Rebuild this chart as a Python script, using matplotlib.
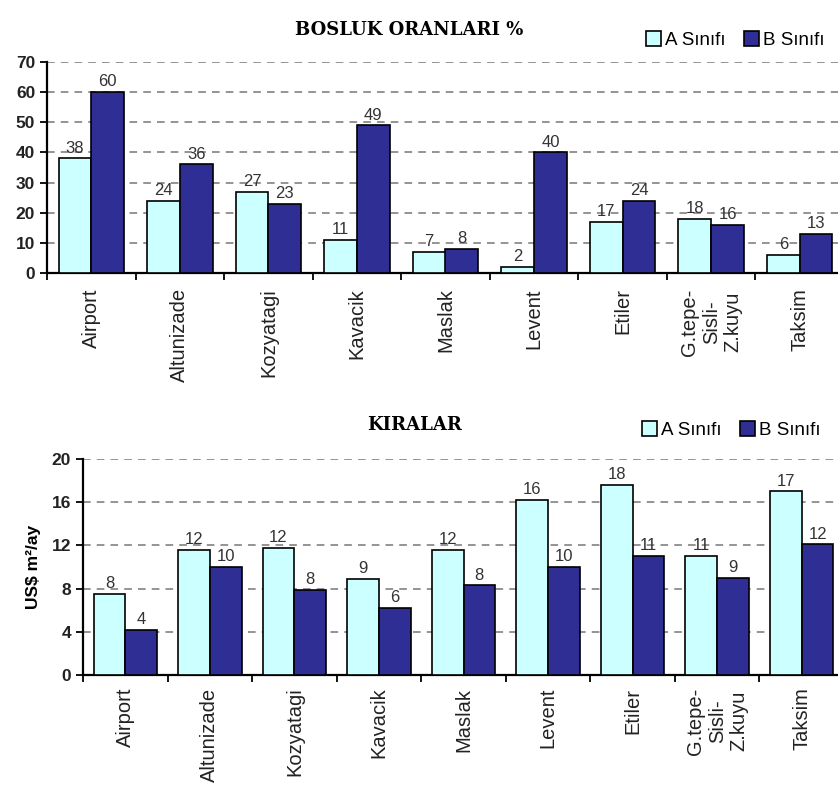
import numpy as np
import matplotlib
matplotlib.use("Agg")
import matplotlib.pyplot as plt
from matplotlib.patches import Patch

plt.rcParams['font.family'] = ['Liberation Sans', 'DejaVu Sans']

# data
districts = ["Airport", "Altunizade", "Kozyatagi", "Kavacik", "Maslak",
             "Levent", "Etiler", "G.tepe-\nSisli-\nZ.kuyu", "Taksim"]

# vacancy rates (%)
vacancy_a = [38, 24, 27, 11, 7, 2, 17, 18, 6]
vacancy_b = [60, 36, 23, 49, 8, 40, 24, 16, 13]

# rents (US$ m2 / month) - bar heights and printed labels
rent_a = [7.5, 11.6, 11.8, 8.9, 11.6, 16.2, 17.6, 11.0, 17.0]
rent_b = [4.2, 10.0, 7.9, 6.2, 8.3, 10.0, 11.0, 9.0, 12.1]
rent_a_lbl = [8, 12, 12, 9, 12, 16, 18, 11, 17]
rent_b_lbl = [4, 10, 8, 6, 8, 10, 11, 9, 12]

legend_a = "A Sınıfı"
legend_b = "B Sınıfı"

col_a = "#CCFFFF"
col_b = "#2E2E94"
W, H = 838, 800


def bar_panel(ax, va, vb, la, lb, ymax, ystep, width, pad):
    x = np.arange(len(districts))
    ax.bar(x - width / 2, va, width, color=col_a, edgecolor="black", lw=1.2, zorder=3)
    ax.bar(x + width / 2, vb, width, color=col_b, edgecolor="black", lw=1.2, zorder=3)
    for xi, v, t in zip(x - width / 2, va, la):
        ax.annotate(str(t), (xi, v), xytext=(0, 2), textcoords="offset points",
                    ha="center", va="bottom", fontsize=12, color="#333333")
    for xi, v, t in zip(x + width / 2, vb, lb):
        ax.annotate(str(t), (xi, v), xytext=(0, 2), textcoords="offset points",
                    ha="center", va="bottom", fontsize=12, color="#333333")
    ax.set_xlim(-0.5, len(districts) - 0.5)
    ax.set_ylim(0, ymax)
    ax.set_yticks(np.arange(0, ymax + 1, ystep))
    ax.yaxis.grid(True, ls=(0, (5, 4)), color="#777777", lw=1.1, zorder=0)
    ax.set_axisbelow(True)
    for s in ["top", "right"]:
        ax.spines[s].set_visible(False)
    for s in ["left", "bottom"]:
        ax.spines[s].set_linewidth(1.6)
    ax.set_xticks(x)
    ax.set_xticklabels(districts, rotation=90, fontsize=14.5, color="#222222",
                       ha="center", va="top", multialignment="center")
    ax.tick_params(axis="x", which="major", length=0, pad=pad)
    ax.set_xticks(np.arange(len(districts) + 1) - 0.5, minor=True)
    ax.tick_params(axis="x", which="minor", length=5, width=1.3, direction="out")
    ax.tick_params(axis="y", length=5, width=1.3, labelsize=12.5)
    for lab in ax.get_yticklabels():
        lab.set_fontweight("bold")
        lab.set_color("#222222")


fig = plt.figure(figsize=(W / 100, H / 100), dpi=100)

# top panel: vacancy rates
ax1 = fig.add_axes([47 / W, 1 - 273 / H, 797 / W, (273 - 62) / H])
bar_panel(ax1, vacancy_a, vacancy_b, vacancy_a, vacancy_b, 70, 10, 0.37, 11)

# bottom panel: rents
ax2 = fig.add_axes([83 / W, 1 - 675 / H, 761 / W, (675 - 459) / H])
bar_panel(ax2, rent_a, rent_b, rent_a_lbl, rent_b_lbl, 20, 4, 0.375, 9)
ax2.set_ylabel("US\\$ m²/ay", fontsize=12.5, fontweight="bold", labelpad=8)

fig.text(409 / W, 1 - 30 / H, "BOSLUK ORANLARI %", ha="center", va="center",
         fontsize=13, fontweight="bold", family="DejaVu Serif")
fig.text(415 / W, 1 - 425 / H, "KIRALAR", ha="center", va="center",
         fontsize=13, fontweight="bold", family="DejaVu Serif")

handles = [Patch(facecolor=col_a, edgecolor="black", lw=1.2, label=legend_a),
           Patch(facecolor=col_b, edgecolor="black", lw=1.2, label=legend_b)]
for cx, cy in [(735, 40), (731, 430)]:
    fig.legend(handles=handles, loc="center", bbox_to_anchor=(cx / W, 1 - cy / H),
               ncol=2, frameon=False, fontsize=13.5, handlelength=0.8, handleheight=0.8,
               handletextpad=0.2, columnspacing=1.0)

fig.savefig("out.png", dpi=100)
